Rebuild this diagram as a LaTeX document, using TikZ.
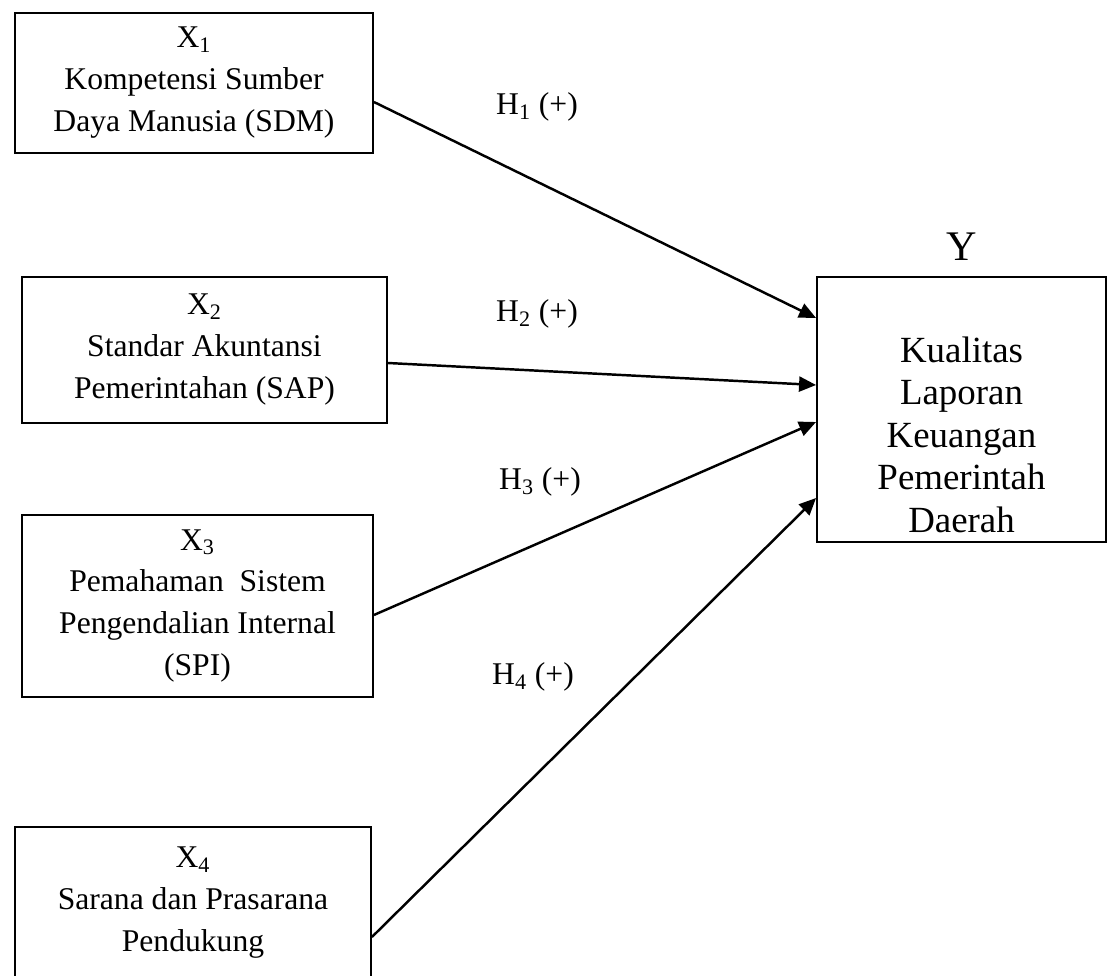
\documentclass[tikz,border=0pt]{standalone}
\usepackage{fontspec}
\setmainfont{Liberation Serif}
\usetikzlibrary{arrows.meta,positioning,calc}

\begin{document}
\begin{tikzpicture}[
x=0.02cm, y=-0.02cm,
font=\fontsize{18}{23.9}\selectfont,
varbox/.style={draw, line width=1.1pt, align=center, inner sep=0pt},
hyp/.style={line width=1.4pt, -{Triangle[length=0.34cm,width=0.3cm]}},
hlabel/.style={inner sep=0pt}
]
    \useasboundingbox (0,0) rectangle (1112,976);

    % Draw independent variables
    \node[varbox, minimum width=7.16cm, minimum height=2.8cm] (x1) at (194,83)
        {X\textsubscript{1}\\Kompetensi Sumber\\Daya Manusia (SDM)};
    \node[varbox, minimum width=7.3cm, minimum height=2.92cm] (x2) at (204.5,350)
        {X\textsubscript{2}\\Standar Akuntansi\\Pemerintahan (SAP)};
    \node[varbox, minimum width=7.02cm, minimum height=3.64cm] (x3) at (197.5,606)
        {X\textsubscript{3}\\Pemahaman~ Sistem\\Pengendalian Internal\\(SPI)};
    \node[varbox, minimum width=7.12cm, minimum height=3.02cm] (x4) at (193,902.5)
        {X\textsubscript{4}\\Sarana dan Prasarana\\Pendukung};

    % Draw dependent variable
    \node[varbox, minimum width=5.78cm, minimum height=5.3cm] (y) at (961.5,409.5) {};
    \node[align=center, font=\fontsize{21}{24.2}\selectfont] (ytext) at ($(y.center)+(0,25)$)
        {Kualitas\\Laporan\\Keuangan\\Pemerintah\\Daerah};
    \node[above=0.3cm of y, inner sep=0pt, font=\fontsize{24}{28}\selectfont] (ylab) {Y};

    % Hypotheses
    \draw[hyp] ($(x1.east)+(0,19)$) -- ($(y.west)+(0,-91.5)$);
    \draw[hyp] ($(x2.east)+(0,13)$) -- ($(y.west)+(0,-24.5)$);
    \draw[hyp] ($(x3.east)+(0,9)$) -- ($(y.west)+(0,12.5)$);
    \draw[hyp] ($(x4.east)+(0,34.5)$) -- ($(y.west)+(0,88.5)$);

    \node[hlabel] (h1) at (537,107) {H\textsubscript{1} (+)};
    \node[hlabel] (h2) at (537,314) {H\textsubscript{2} (+)};
    \node[hlabel] (h3) at (540,482) {H\textsubscript{3} (+)};
    \node[hlabel] (h4) at (533,677) {H\textsubscript{4} (+)};

\end{tikzpicture}
\end{document}
